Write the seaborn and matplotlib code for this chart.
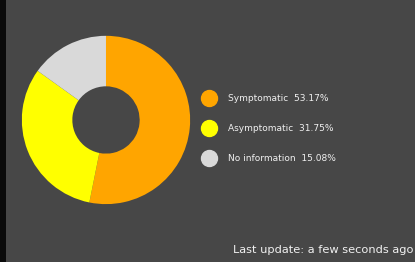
import matplotlib
matplotlib.use("Agg")
import matplotlib.pyplot as plt
from matplotlib.lines import Line2D
from matplotlib.patches import Rectangle
import seaborn as sns

categories = ["Symptomatic", "Asymptomatic", "No information"]
shares = [53.17, 31.75, 15.08]
colors = ["#ffa500", "#ffff00", "#d9d9d9"]
footer = "Last update: a few seconds ago"

bg = "#474747"
sns.set_style("dark")
plt.rcParams["font.family"] = ["DejaVu Sans"]

fig = plt.figure(figsize=(4.15, 2.62), dpi=100, facecolor=bg)
ax = fig.add_axes([0.0506, 0.2176, 0.4096, 0.649])
ax.set_facecolor(bg)
ax.pie(shares, colors=colors, startangle=90, counterclock=False,
       radius=1.0, wedgeprops=dict(width=0.6, linewidth=0))
ax.set_xlim(-1.01, 1.01)
ax.set_ylim(-1.01, 1.01)
ax.set_aspect("equal")
ax.axis("off")

# dark strip on the left edge
fig.patches.append(Rectangle((0, 0), 6 / 415, 1, transform=fig.transFigure,
                             facecolor="#0a0a0a", edgecolor="none"))

handles = [Line2D([], [], marker="o", linestyle="none", markersize=11.5,
                  markerfacecolor=c, markeredgecolor=c) for c in colors]
labels = [f"{n}  {v:.2f}%" for n, v in zip(categories, shares)]
leg = fig.legend(handles, labels, loc="center left", bbox_to_anchor=(0.47, 0.51),
                 frameon=False, fontsize=6.5, labelspacing=2.35, handletextpad=1.6,
                 handlelength=1.2)
for t in leg.get_texts():
    t.set_color("#f0f0f0")

fig.text(0.997, 0.025, footer, ha="right", va="bottom", fontsize=8.2, color="#f0f0f0")

fig.savefig("out.png", dpi=100, facecolor=bg)
